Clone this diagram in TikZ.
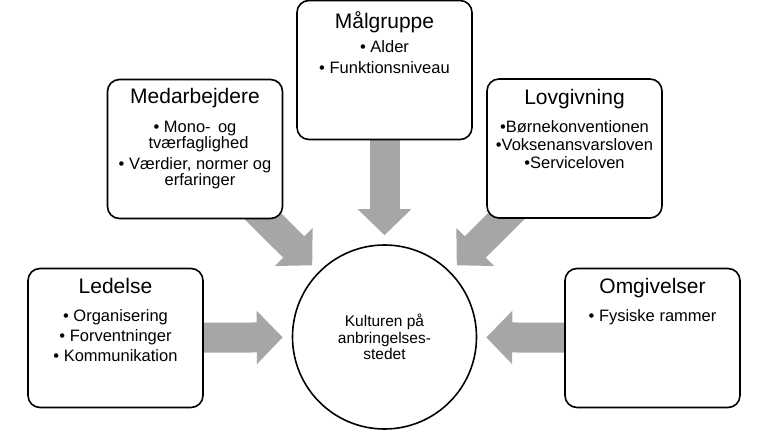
\documentclass[tikz,border=0pt]{standalone}
\usepackage{fontspec}
\setmainfont{Liberation Sans}
\usetikzlibrary{arrows.meta,positioning,backgrounds}
\definecolor{flowgray}{RGB}{166,166,166}
\tikzset{
    factorbox/.style={draw,line width=1.6pt,rounded corners=12pt,fill=white,minimum width=175pt,minimum height=139pt,inner sep=0pt,outer sep=0pt},
    boxtext/.style={align=center,inner sep=0pt,font=\fontsize{16.5}{20}\selectfont},
    culture/.style={draw,line width=1.6pt,circle,fill=white,minimum size=184pt,inner sep=0pt,align=center,font=\fontsize{15.5}{16.7}\selectfont},
    inflow/.style={-{Triangle[length=26pt,width=52pt]},line width=30pt,flowgray,shorten >=9pt}
}
\newcommand{\boxtitle}{\fontsize{21}{25}\selectfont}

\begin{document}
\begin{tikzpicture}[x=1pt,y=-1pt]
    \useasboundingbox (0,0) rectangle (768,431);
    % Centre
    \node[culture] (hub) at (384.5,337) {Kulturen på\\anbringelses-\\stedet};
    % Factor boxes
    \node[factorbox] (led) at (115.5,338) {};
    \node[factorbox] (med) at (195,149) {};
    \node[factorbox] (mal) at (384.5,70) {};
    \node[factorbox] (lov) at (574.5,148.5) {};
    \node[factorbox] (omg) at (652.5,338) {};
    % Box texts
    \node[boxtext,below=10pt of led.north] (ledtext)
        {{\boxtitle Ledelse}\\[8pt] • Organisering\\ • Forventninger\\ • Kommunikation};
    \node[boxtext,below=9pt of med.north] (medtext)
        {{\boxtitle Medarbejdere}\\[9pt] • Mono-\,  og\\[-4pt] \hspace*{7pt}tværfaglighed\\[1pt] • Værdier, normer og\\[-4pt] \hspace*{10pt}erfaringer};
    \node[boxtext,below=11pt of mal.north] (maltext)
        {{\boxtitle Målgruppe}\\[4pt] • Alder\\[1pt] • Funktionsniveau};
    \node[boxtext,below=10pt of lov.north] (lovtext)
        {{\boxtitle Lovgivning}\\[8pt] •Børnekonventionen\\[-2pt] •Voksenansvarsloven\\[-2pt] •Serviceloven};
    \node[boxtext,below=10pt of omg.north] (omgtext)
        {{\boxtitle Omgivelser}\\[8pt] • Fysiske rammer};
    % Arrows into the centre
    \begin{scope}[on background layer]
        \draw[inflow] (led.center) -- (hub);
        \draw[inflow] (med.center) -- (hub);
        \draw[inflow] (mal.center) -- (hub);
        \draw[inflow] (lov.center) -- (hub);
        \draw[inflow] (omg.center) -- (hub);
    \end{scope}
\end{tikzpicture}
\end{document}
